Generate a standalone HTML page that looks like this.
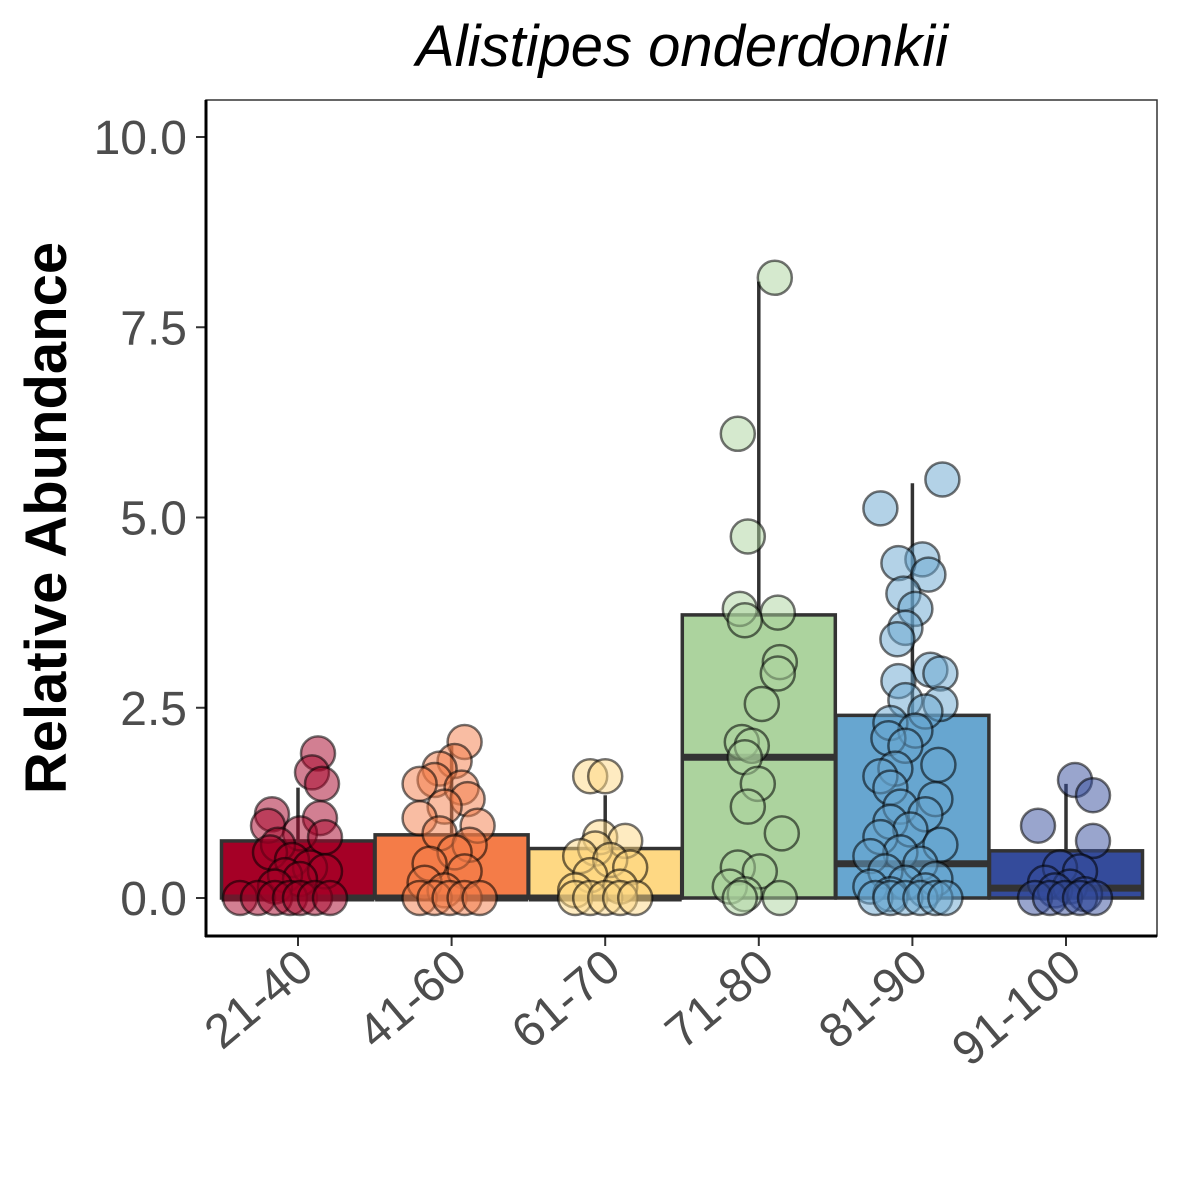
<!DOCTYPE html>
<html><head><meta charset="utf-8"><style>
html,body{margin:0;padding:0;background:#fff;}
svg{display:block;font-family:"Liberation Sans",Arial,sans-serif;}
</style></head><body>
<svg id="chart" width="1181" height="1181" viewBox="0 0 1181 1181" xmlns="http://www.w3.org/2000/svg">
<text x="682" y="66" font-size="58" font-style="italic" text-anchor="middle" fill="#000">Alistipes onderdonkii</text>
<text transform="translate(66,518) rotate(-90)" font-size="58" font-weight="bold" text-anchor="middle" fill="#000">Relative Abundance</text>
<rect x="206" y="100" width="951" height="836" fill="none" stroke="#333" stroke-width="1.5"/>
<g id="boxes"></g><g id="points"></g><g id="axes"></g>
</svg>
<script>
const categories = ["21-40","41-60","61-70","71-80","81-90","91-100"];
const q1Values = [0,0,0,0,0,0];
const medianValues = [0,0,0,1.85,0.45,0.13];
const q3Values = [0.75,0.83,0.65,3.72,2.4,0.62];
const whiskerValues = [1.45,2.0,1.35,8.1,5.45,1.5];
const fillColors = ["#a50026","#f47c48","#fed883","#acd39e","#67a6d0","#344b9b"];
const yTicks = [0,2.5,5,7.5,10];
const yTickLabels = ["0.0","2.5","5.0","7.5","10.0"];
const pointGroups = [
 [[1.9,20],[1.65,14],[1.5,24],[1.1,-26],[1.05,22],[0.95,-30],[0.85,2],[0.8,27],[0.7,-20],[0.6,-28],[0.5,-6],[0.4,12],[0.35,27],[0.3,-13],[0.25,2],[0.15,-23],[0,-58],[0,-40],[0,-23],[0,-8],[0,2],[0,17],[0,32]],
 [[2.05,13],[1.8,3],[1.7,-12],[1.55,-17],[1.5,-32],[1.45,10],[1.3,16],[1.2,-7],[1.05,-32],[0.95,26],[0.85,-12],[0.7,18],[0.6,3],[0.45,-22],[0.35,13],[0.2,-27],[0.1,-7],[0,-32],[0,-17],[0,-2],[0,13],[0,28]],
 [[1.6,-15],[1.6,0],[0.8,-5],[0.75,20],[0.65,-10],[0.55,-25],[0.5,5],[0.4,25],[0.3,-15],[0.15,15],[0.1,-30],[0,-30],[0,-15],[0,0],[0,15],[0,30]],
 [[8.15,16],[6.1,-21],[4.75,-11],[3.8,-19],[3.75,19],[3.65,-14],[3.1,21],[2.95,19],[2.55,3],[2.05,-17],[2.0,-7],[1.85,-14],[1.5,-1],[1.2,-11],[0.85,23],[0.4,-21],[0.35,1],[0.15,-29],[0.05,-14],[0,-19],[0,21]],
 [[5.5,30],[5.12,-32],[4.45,10],[4.4,-14],[4.25,16],[4.0,-9],[3.8,3],[3.55,-7],[3.4,-15],[3.0,18],[2.95,28],[2.85,-14],[2.6,-7],[2.55,28],[2.45,13],[2.3,-22],[2.2,3],[2.1,-24],[2.0,-7],[1.75,26],[1.7,-17],[1.6,-32],[1.45,-22],[1.3,23],[1.2,-12],[1.1,13],[1.0,-22],[0.9,-2],[0.8,-32],[0.7,28],[0.6,-12],[0.55,-42],[0.45,8],[0.35,-27],[0.25,23],[0.2,-7],[0.15,-42],[0.1,13],[0.05,-22],[0,-37],[0,-22],[0,-7],[0,8],[0,23],[0,33]],
 [[1.55,9],[1.35,27],[0.95,-28],[0.75,27],[0.4,-6],[0.35,14],[0.2,-21],[0.15,4],[0.1,-11],[0.05,19],[0,-31],[0,-16],[0,-1],[0,14],[0,29]]
];
const NS="http://www.w3.org/2000/svg";
const yScale = v => 898 - v*76.1;
const xScale = i => 298 + i*153.6;
const bw = 153;
function mk(tag, attrs, parent){const e=document.createElementNS(NS,tag);for(const k in attrs)e.setAttribute(k,attrs[k]);parent.appendChild(e);return e;}
const gB=document.getElementById('boxes'), gP=document.getElementById('points'), gA=document.getElementById('axes');
categories.forEach((c,i)=>{
  const cx=xScale(i);
  const w=mk('line',{x1:cx,x2:cx,y1:yScale(q3Values[i]),y2:yScale(whiskerValues[i]),stroke:'#333','stroke-width':3.5},gB);
  
  
  const r=mk('rect',{x:cx-bw/2,y:yScale(q3Values[i]),width:bw,height:yScale(q1Values[i])-yScale(q3Values[i]),fill:fillColors[i],stroke:'#333','stroke-width':3.5},gB);
  
  
  const m=mk('line',{x1:cx-bw/2,x2:cx+bw/2,y1:yScale(medianValues[i]),y2:yScale(medianValues[i]),stroke:'#333','stroke-width':7},gB);
  
  
  pointGroups[i].forEach(p=>{
    const ci=mk('circle',{cx:cx+p[1],cy:yScale(p[0]),r:17,fill:fillColors[i],'fill-opacity':0.5,stroke:'#000','stroke-opacity':0.55,'stroke-width':2.5},gP);
    
    
  });
  const t=mk('line',{x1:cx,x2:cx,y1:936,y2:946,stroke:'#333','stroke-width':2},gA);
  
  
  const l=mk('text',{transform:`translate(${cx+18},${972}) rotate(-40)`,'font-size':48,fill:'#4d4d4d','text-anchor':'end'},gA);
  l.textContent=c;
  
  
});
yTicks.forEach((v,i)=>{
  const y=yScale(v);
  const t=mk('line',{x1:196,x2:206,y1:y,y2:y,stroke:'#333','stroke-width':2},gA);
  
  
  const l=mk('text',{x:187,y:y+17,'font-size':48,fill:'#4d4d4d','text-anchor':'end'},gA);
  l.textContent=yTickLabels[i];
  
  
});
const ax=mk('line',{x1:206,x2:206,y1:100,y2:937,stroke:'#000','stroke-width':3},gA);


const bx=mk('line',{x1:205,x2:1157,y1:936,y2:936,stroke:'#000','stroke-width':3},gA);


</script>
</body></html>
